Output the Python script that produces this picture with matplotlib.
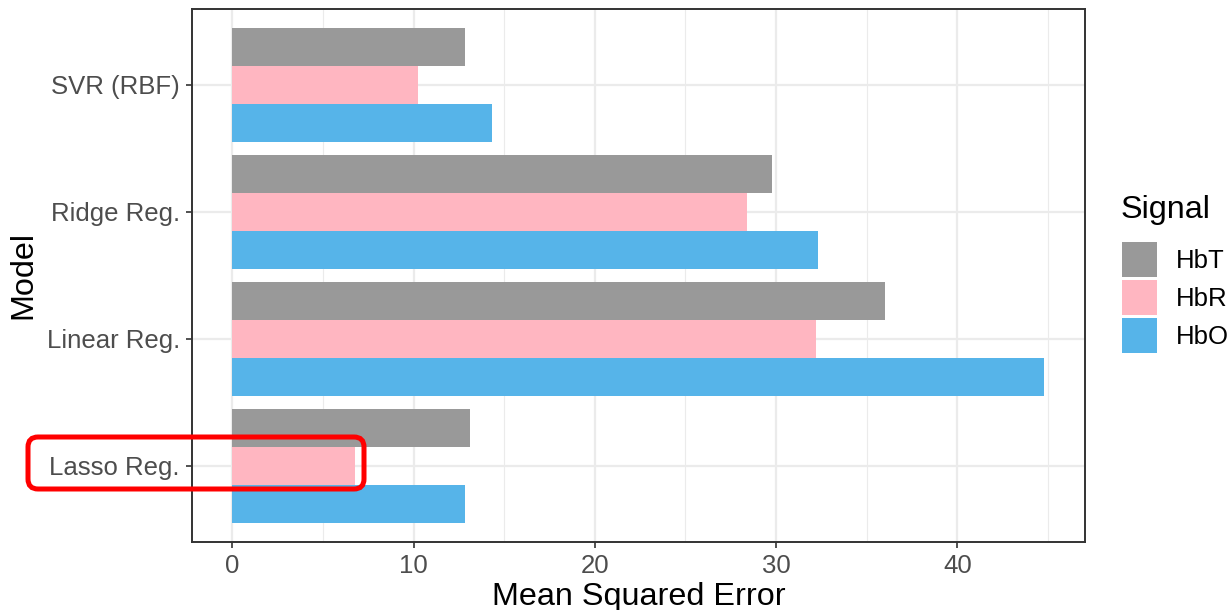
import matplotlib
matplotlib.use("Agg")
import matplotlib.pyplot as plt
import numpy as np
from matplotlib.patches import Patch, FancyBboxPatch
from matplotlib.transforms import IdentityTransform
from matplotlib.ticker import MultipleLocator

plt.rcParams['font.family'] = ['Liberation Sans', 'DejaVu Sans']

# Data
models = ["Lasso Reg.", "Linear Reg.", "Ridge Reg.", "SVR (RBF)"]
signals = ["HbO", "HbR", "HbT"]
mse_hbo = [12.85, 44.8, 32.3, 14.3]
mse_hbr = [6.75, 32.2, 28.4, 10.25]
mse_hbt = [13.1, 36.0, 29.8, 12.85]
colors = {"HbT": "#999999", "HbR": "#FFB6C1", "HbO": "#56B4E9"}
xticks = [0, 10, 20, 30, 40]

values = {"HbO": mse_hbo, "HbR": mse_hbr, "HbT": mse_hbt}

fig = plt.figure(figsize=(12.3, 6.1), dpi=100)
W, H = 1230, 610
left, right, top, bottom = 191.7, 1085, 8.6, 542
ax = fig.add_axes([left / W, 1 - bottom / H, (right - left) / W, (bottom - top) / H])

pos = np.arange(1, len(models) + 1)
dodge = 0.9
bh = dodge / len(signals)
for i, s in enumerate(signals):
    offs = -dodge / 2 + bh / 2 + i * bh
    ax.barh(pos + offs, values[s], height=bh, color=colors[s], zorder=3, linewidth=0)

# ggplot-like expansion
allv = mse_hbo + mse_hbr + mse_hbt
xmax = max(allv)
ax.set_xlim(-0.05 * xmax, xmax * 1.05)
ax.set_ylim(0.4, len(models) + 0.6)

ax.set_yticks(pos)
ax.set_yticklabels(models)
ax.set_xticks(xticks)
ax.set_xticklabels([str(t) for t in xticks])
ax.xaxis.set_minor_locator(MultipleLocator(5))

ax.grid(True, which='major', axis='both', color='#EBEBEB', linewidth=1.6, zorder=0)
ax.grid(True, which='minor', axis='x', color='#EBEBEB', linewidth=0.8, zorder=0)
ax.set_axisbelow(True)

for sp in ax.spines.values():
    sp.set_color('#333333')
    sp.set_linewidth(1.4)

ax.tick_params(axis='both', which='major', length=4.5, width=1.2, color='#333333',
               labelcolor='#4D4D4D', labelsize=18.5, pad=4)
ax.tick_params(axis='x', which='minor', length=0)

ax.set_xlabel("Mean Squared Error", fontsize=23.3, color='black', labelpad=3)
ax.set_ylabel("Model", fontsize=23.3, color='black', labelpad=6)

# legend: title as its own text, keys below it
fig.text(1121 / W, 1 - 210 / H, "Signal", fontsize=23.3, color='black',
         ha='left', va='center')
handles = [Patch(facecolor=colors[s], edgecolor='none', label=s) for s in ["HbT", "HbR", "HbO"]]
leg = fig.legend(handles=handles, loc='upper left', bbox_to_anchor=(1122 / W, 1 - 242 / H),
                 frameon=False, fontsize=18.5,
                 handlelength=1.36, handleheight=1.715, handletextpad=0.72,
                 labelspacing=0.12, borderpad=0, borderaxespad=0)

# highlight box around the Lasso row
box = FancyBboxPatch((28 + 10, H - 489 + 10), 336 - 20, 52 - 20,
                     boxstyle="round,pad=10,rounding_size=10",
                     transform=IdentityTransform(), fill=False,
                     edgecolor='#FF0000', linewidth=3.6, zorder=10)
fig.patches.append(box)

fig.savefig("out.png", dpi=100)
